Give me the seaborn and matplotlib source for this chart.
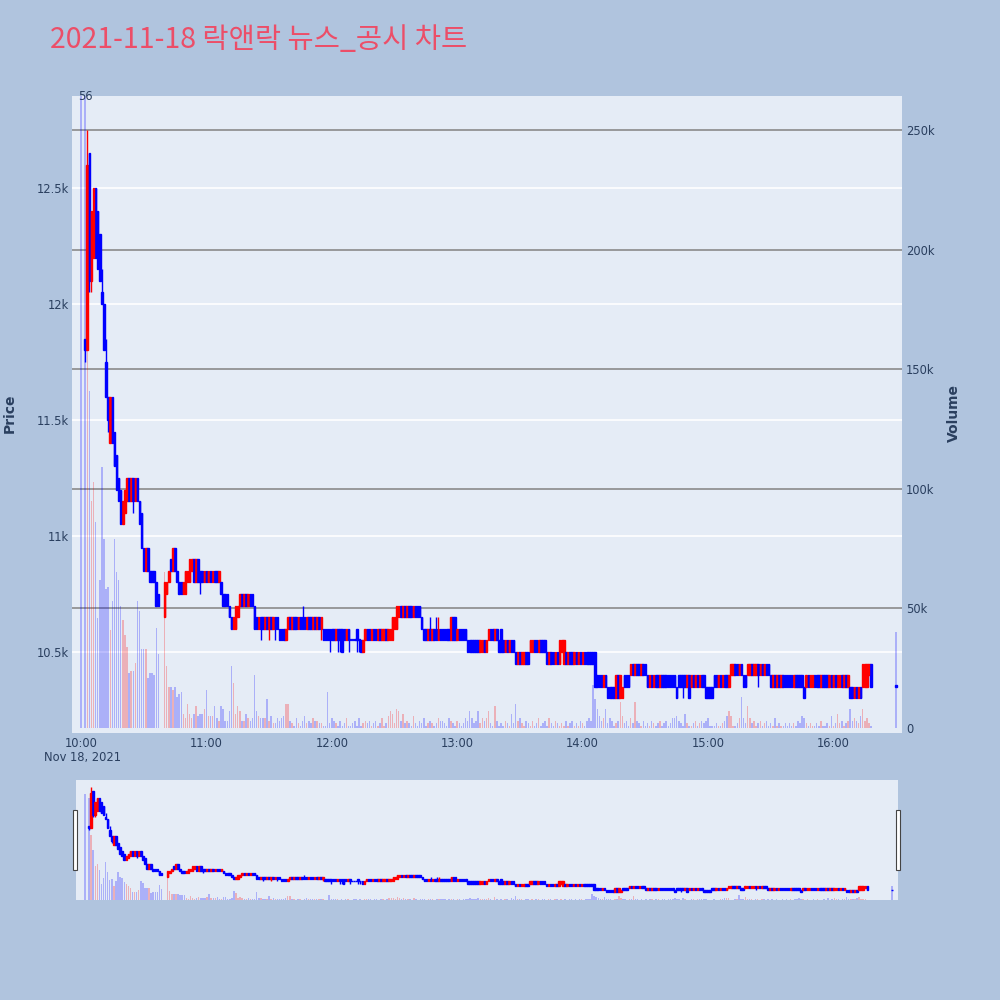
import numpy as np
import matplotlib
matplotlib.use('Agg')
import matplotlib.pyplot as plt
from matplotlib.patches import Rectangle
import seaborn as sns

title = "2021-11-18 락앤락 뉴스_공시 차트"

# minutes after 10:00 (no trades at 10:00-10:01 and 10:38-10:39, 16:30 is the closing auction)
candle_minutes = list(range(2, 38)) + list(range(40, 379)) + [390]
volume_minutes = [0] + candle_minutes

open_px = [
    11850, 11800, 12650, 12100, 12200, 12500, 12400, 12300, 12050, 12000,  # 10:02
    11750, 11600, 11400, 11600, 11450, 11350, 11250, 11200, 11050, 11100,  # 10:12
    11150, 11250, 11150, 11250, 11150, 11250, 11150, 11100, 10950, 10850,  # 10:22
    10950, 10850, 10850, 10850, 10800, 10750,                              # 10:32
    10650, 10750, 10800, 10900, 10850, 10950, 10850, 10800, 10800, 10750,  # 10:40
    10750, 10800, 10800, 10850, 10900, 10800, 10900, 10850, 10850, 10800,  # 10:50
    10850, 10800, 10850, 10800, 10850, 10850, 10800, 10800, 10750, 10750,  # 11:00
    10750, 10700, 10650, 10600, 10600, 10650, 10700, 10750, 10700, 10750,  # 11:10
    10700, 10750, 10750, 10700, 10650, 10600, 10650, 10650, 10600, 10650,  # 11:20
    10600, 10650, 10600, 10650, 10650, 10600, 10600, 10600, 10550, 10600,  # 11:30
    10650, 10600, 10650, 10650, 10600, 10650, 10650, 10650, 10600, 10650,  # 11:40
    10650, 10600, 10650, 10600, 10650, 10600, 10600, 10600, 10600, 10600,  # 11:50
    10600, 10600, 10550, 10600, 10600, 10600, 10600, 10550, 10600, 10550,  # 12:00
    10550, 10550, 10600, 10550, 10550, 10500, 10550, 10600, 10600, 10550,  # 12:10
    10600, 10600, 10550, 10600, 10550, 10550, 10600, 10550, 10550, 10550,  # 12:20
    10600, 10600, 10650, 10700, 10650, 10700, 10650, 10700, 10700, 10650,  # 12:30
    10700, 10700, 10700, 10650, 10600, 10600, 10550, 10600, 10550, 10600,  # 12:40
    10600, 10550, 10600, 10600, 10600, 10600, 10600, 10550, 10650, 10650,  # 12:50
    10550, 10600, 10600, 10600, 10600, 10550, 10550, 10550, 10550, 10550,  # 13:00
    10550, 10500, 10500, 10550, 10500, 10550, 10600, 10600, 10550, 10600,  # 13:10
    10550, 10600, 10550, 10500, 10550, 10500, 10550, 10550, 10500, 10450,  # 13:20
    10500, 10450, 10450, 10500, 10500, 10500, 10500, 10550, 10550, 10500,  # 13:30
    10550, 10550, 10550, 10500, 10450, 10500, 10500, 10450, 10500, 10450,  # 13:40
    10500, 10450, 10500, 10450, 10500, 10500, 10450, 10500, 10450, 10500,  # 13:50
    10450, 10500, 10500, 10500, 10500, 10500, 10500, 10400, 10400, 10400,  # 14:00
    10350, 10400, 10350, 10350, 10350, 10350, 10300, 10400, 10300, 10300,  # 14:10
    10400, 10400, 10400, 10400, 10450, 10400, 10450, 10450, 10400, 10450,  # 14:20
    10450, 10400, 10350, 10400, 10350, 10400, 10400, 10350, 10400, 10400,  # 14:30
    10400, 10400, 10400, 10400, 10400, 10350, 10400, 10400, 10400, 10400,  # 14:40
    10350, 10400, 10350, 10400, 10350, 10400, 10350, 10400, 10400, 10350,  # 14:50
    10350, 10350, 10350, 10400, 10400, 10350, 10400, 10350, 10400, 10400,  # 15:00
    10350, 10400, 10400, 10450, 10450, 10400, 10450, 10400, 10400, 10400,  # 15:10
    10400, 10450, 10400, 10400, 10450, 10400, 10450, 10400, 10450, 10450,  # 15:20
    10400, 10350, 10400, 10350, 10400, 10350, 10400, 10400, 10400, 10400,  # 15:30
    10400, 10350, 10400, 10400, 10400, 10400, 10350, 10350, 10400, 10350,  # 15:40
    10350, 10400, 10400, 10400, 10350, 10400, 10400, 10400, 10350, 10400,  # 15:50
    10350, 10400, 10350, 10350, 10400, 10350, 10400, 10350, 10350, 10350,  # 16:00
    10300, 10350, 10300, 10350, 10350, 10350, 10350, 10400, 10450,         # 16:10
    10350,                                                                 # 16:30
]

close_px = [
    11800, 12600, 12100, 12400, 12500, 12200, 12150, 12100, 12000, 11800,
    11600, 11500, 11600, 11400, 11300, 11200, 11150, 11050, 11150, 11200,
    11250, 11150, 11250, 11150, 11250, 11150, 11050, 10950, 10850, 10950,
    10850, 10800, 10800, 10800, 10700, 10700,
    10800, 10800, 10850, 10850, 10950, 10850, 10800, 10750, 10750, 10800,
    10850, 10850, 10900, 10900, 10800, 10900, 10800, 10800, 10800, 10850,
    10800, 10850, 10800, 10850, 10800, 10800, 10850, 10750, 10700, 10700,
    10700, 10650, 10600, 10650, 10700, 10700, 10750, 10700, 10750, 10700,
    10750, 10700, 10700, 10600, 10600, 10650, 10600, 10600, 10650, 10600,
    10650, 10600, 10650, 10600, 10600, 10550, 10550, 10550, 10600, 10650,
    10600, 10650, 10600, 10600, 10650, 10600, 10600, 10600, 10650, 10600,
    10600, 10650, 10600, 10650, 10600, 10650, 10550, 10550, 10550, 10550,
    10550, 10550, 10600, 10550, 10550, 10500, 10550, 10600, 10550, 10550,
    10550, 10550, 10550, 10550, 10500, 10550, 10600, 10550, 10550, 10600,
    10550, 10550, 10600, 10550, 10600, 10600, 10550, 10600, 10600, 10650,
    10650, 10700, 10700, 10650, 10700, 10650, 10700, 10650, 10650, 10700,
    10650, 10650, 10650, 10600, 10550, 10550, 10600, 10550, 10600, 10550,
    10550, 10600, 10550, 10550, 10550, 10550, 10550, 10650, 10550, 10550,
    10600, 10550, 10550, 10550, 10550, 10500, 10500, 10500, 10500, 10500,
    10500, 10550, 10550, 10500, 10550, 10600, 10550, 10550, 10600, 10550,
    10500, 10500, 10500, 10550, 10500, 10550, 10500, 10500, 10450, 10500,
    10450, 10500, 10500, 10450, 10450, 10550, 10550, 10500, 10500, 10550,
    10500, 10500, 10500, 10450, 10500, 10450, 10450, 10500, 10450, 10550,
    10550, 10550, 10450, 10500, 10450, 10450, 10500, 10450, 10500, 10450,
    10500, 10450, 10450, 10450, 10450, 10450, 10350, 10350, 10350, 10350,
    10400, 10350, 10300, 10300, 10300, 10300, 10400, 10300, 10400, 10350,
    10350, 10350, 10350, 10450, 10400, 10450, 10400, 10400, 10450, 10400,
    10400, 10350, 10400, 10350, 10400, 10350, 10350, 10400, 10350, 10350,
    10350, 10350, 10350, 10350, 10350, 10300, 10350, 10350, 10350, 10350,
    10400, 10300, 10400, 10350, 10400, 10350, 10400, 10350, 10350, 10300,
    10300, 10300, 10300, 10350, 10350, 10400, 10350, 10400, 10350, 10350,
    10400, 10450, 10450, 10400, 10400, 10450, 10400, 10350, 10350, 10450,
    10450, 10400, 10450, 10450, 10400, 10450, 10400, 10450, 10400, 10400,
    10350, 10400, 10350, 10400, 10350, 10400, 10350, 10350, 10350, 10350,
    10350, 10400, 10350, 10350, 10350, 10350, 10300, 10400, 10350, 10400,
    10400, 10350, 10350, 10350, 10400, 10350, 10350, 10350, 10400, 10350,
    10400, 10350, 10400, 10400, 10350, 10400, 10350, 10400, 10300, 10300,
    10350, 10300, 10350, 10300, 10450, 10450, 10450, 10450, 10350,
    10350,
]

# wicks that stick out of the bodies
high_wicks = {3: 12750, 10: 12150, 12: 11850, 106: 10700, 167: 10650, 170: 10650, 171: 10650}
low_wicks = {2: 11750, 4: 12050, 5: 12050, 13: 11450, 25: 11100, 57: 10750, 86: 10550,
             90: 10550, 93: 10550, 115: 10550, 119: 10500, 123: 10500, 124: 10500,
             128: 10500, 132: 10500, 133: 10500, 288: 10300, 324: 10350}

# volume in thousands of shares
volume_k = [
    300,
    290, 185, 141, 95, 103, 86, 46, 62, 109, 79,
    58, 59, 41, 53, 79, 65, 62, 51, 45, 39,
    34, 23, 24, 24, 27, 53, 49, 33, 33, 33,
    21, 23, 23, 22, 42, 31,
    65, 26, 17, 17, 16, 17, 13, 14, 15, 6,
    4, 10, 6, 4, 6, 9, 5, 6, 6, 8,
    16, 5, 5, 5, 9, 4, 3, 9, 8, 3,
    3, 7, 26, 19, 6, 9, 7, 3, 3, 6,
    4, 3, 4, 22, 7, 5, 4, 4, 4, 12,
    3, 5, 2, 2, 4, 3, 4, 5, 10, 10,
    3, 2, 1, 4, 2, 1, 3, 5, 2, 3,
    2, 4, 3, 3, 2, 2, 1, 1, 15, 2,
    4, 3, 2, 1, 3, 1, 2, 4, 1, 1,
    2, 3, 1, 4, 1, 2, 3, 2, 3, 1,
    2, 3, 1, 2, 4, 1, 2, 5, 7, 6,
    2, 8, 7, 3, 6, 2, 3, 2, 1, 5,
    2, 1, 3, 2, 4, 1, 2, 3, 2, 1,
    2, 4, 3, 3, 2, 1, 4, 3, 2, 1,
    3, 2, 1, 2, 4, 3, 7, 4, 2, 3,
    7, 2, 4, 3, 4, 7, 2, 1, 9, 3,
    1, 2, 1, 3, 2, 1, 6, 2, 10, 3,
    4, 2, 1, 3, 2, 1, 3, 1, 2, 4,
    1, 2, 3, 1, 4, 2, 1, 3, 2, 1,
    2, 1, 3, 1, 2, 3, 1, 2, 1, 3,
    2, 1, 3, 4, 3, 18, 12, 8, 5, 3,
    4, 8, 2, 4, 3, 1, 2, 3, 11, 5,
    2, 3, 1, 4, 2, 11, 3, 2, 1, 3,
    1, 2, 1, 3, 2, 1, 2, 3, 1, 2,
    3, 1, 2, 4, 4, 5, 3, 2, 1, 6,
    2, 1, 1, 2, 3, 1, 2, 3, 2, 3,
    4, 1, 1, 1, 2, 1, 1, 2, 3, 5,
    7, 5, 1, 1, 2, 4, 13, 4, 2, 9,
    4, 2, 3, 1, 2, 3, 1, 2, 3, 1,
    2, 1, 4, 1, 2, 1, 1, 2, 1, 2,
    1, 2, 1, 3, 2, 5, 4, 2, 1, 2,
    1, 1, 2, 1, 3, 1, 1, 2, 1, 5,
    1, 2, 6, 2, 3, 1, 2, 3, 8, 3,
    4, 3, 2, 5, 8, 3, 4, 2, 1,
    40,
]

time_ticks = [0, 60, 120, 180, 240, 300, 360]
time_labels = ["10:00", "11:00", "12:00", "13:00", "14:00", "15:00", "16:00"]
price_ticks = [10500, 11000, 11500, 12000, 12500]
price_labels = ["10.5k", "11k", "11.5k", "12k", "12.5k"]
volume_ticks = [0, 50, 100, 150, 200, 250]
volume_labels = ["0", "50k", "100k", "150k", "200k", "250k"]

UP = "#ff0000"
DOWN = "#0000ff"
PAGE = "#b0c4de"
PANEL = "#e5ecf6"
TEXT = "#2a3f5f"

sns.set_theme(style="white")
plt.rcParams["font.family"] = ["DejaVu Sans"]

o = np.array(open_px, dtype=float)
c = np.array(close_px, dtype=float)
hi = np.maximum(o, c)
lo = np.minimum(o, c)
for i, m in enumerate(candle_minutes):
    if m in high_wicks:
        hi[i] = high_wicks[m]
    if m in low_wicks:
        lo[i] = low_wicks[m]
rising = c > o
candle_colors = [UP if r else DOWN for r in rising]
body_lo = np.minimum(o, c)
body_h = np.maximum(np.abs(c - o), 6)
vol_colors = [DOWN] + candle_colors

XLIM = (-4.3, 392.8)


def draw_candles(axis, lw):
    axis.vlines(candle_minutes, lo, hi, colors=candle_colors, linewidth=lw)
    axis.bar(candle_minutes, body_h, bottom=body_lo, width=0.75, color=candle_colors,
             edgecolor=candle_colors, linewidth=lw)


def draw_volume(axis):
    axis.bar(volume_minutes, volume_k, width=0.7, color=vol_colors, alpha=0.25, linewidth=0)


def clean(axis):
    for s in axis.spines.values():
        s.set_visible(False)


fig = plt.figure(figsize=(10, 10), dpi=100, facecolor=PAGE)

# main panel: price scale underneath with the white grid
rect = [0.072, 0.267, 0.830, 0.637]
ax = fig.add_axes(rect)
ax.set_facecolor(PANEL)
ax.set_xlim(*XLIM)
ax.set_ylim(10151, 12897)
ax.grid(False)
for p in price_ticks:
    ax.axhline(p, color="white", lw=1.2, zorder=0)
ax.set_xticks(time_ticks, time_labels)
ax.set_yticks(price_ticks, price_labels)
ax.tick_params(axis="x", length=0, pad=3, labelsize=8.3, labelcolor=TEXT)
ax.tick_params(axis="y", length=0, pad=2, labelsize=8.3, labelcolor=TEXT)
clean(ax)

axv = ax.twinx()
axv.set_ylim(-2.1, 264.2)
axv.grid(False)
for v in volume_ticks[1:]:
    axv.axhline(v, color="#8a8a8a", lw=1.2, zorder=0)
draw_volume(axv)
axv.set_yticks(volume_ticks, volume_labels)
axv.tick_params(axis="y", length=0, pad=3, labelsize=8.3, labelcolor=TEXT)
clean(axv)

axc = fig.add_axes(rect)
axc.patch.set_visible(False)
axc.set_xlim(*XLIM)
axc.set_ylim(10151, 12897)
axc.axis("off")
draw_candles(axc, 1.0)

fig.text(0.085, 1 - 0.097, "56", ha="center", va="center", fontsize=8.3, color=TEXT)
fig.text(0.082, 1 - 0.758, "Nov 18, 2021", ha="center", va="center", fontsize=8.3, color=TEXT)
fig.text(0.010, 1 - 0.413, "Price", rotation=90, ha="center", va="center",
         fontsize=10, fontweight="bold", color=TEXT)
fig.text(0.954, 1 - 0.413, "Volume", rotation=90, ha="center", va="center",
         fontsize=10, fontweight="bold", color=TEXT)
fig.text(0.05, 1 - 0.040, title, ha="left", va="center", fontsize=20.5, color="#ec4e68",
         family=["Noto Sans CJK KR", "DejaVu Sans"])

# range slider
srect = [0.076, 0.100, 0.822, 0.120]
sl = fig.add_axes(srect)
sl.set_facecolor(PANEL)
sl.set_xlim(*XLIM)
sl.set_xticks([])
sl.set_yticks([])
clean(sl)
slv = sl.twinx()
slv.set_ylim(0, 340)
slv.set_yticks([])
draw_volume(slv)
clean(slv)
slc = fig.add_axes(srect)
slc.patch.set_visible(False)
slc.set_xlim(*XLIM)
slc.set_ylim(10117, 12913)
slc.axis("off")
draw_candles(slc, 1.0)

for hx in (0.073, 0.896):
    fig.add_artist(Rectangle((hx, 1 - 0.870), 0.004, 0.060, transform=fig.transFigure,
                             facecolor="white", edgecolor="#444444", lw=0.8))

fig.savefig("out.png", dpi=100, facecolor=fig.get_facecolor())
